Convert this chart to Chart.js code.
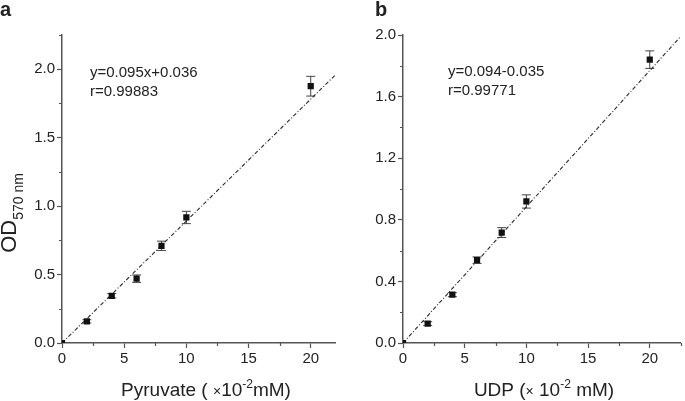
<!DOCTYPE html>
<html>
<head>
<meta charset="utf-8">
<script src="https://cdn.jsdelivr.net/npm/chart.js@4"></script>
<style>
    body { margin: 0; background: #fff; width: 685px; height: 401px; overflow: hidden; }
    .panel { position: absolute; top: 0; height: 401px; }
</style>
</head>
<body>
<div class="panel" style="left:0;width:340px"><canvas id="chartA"></canvas></div>
<div class="panel" style="left:340px;width:345px"><canvas id="chartB"></canvas></div>
<script>
// panel a: pyruvate standard curve
const concA = [0, 2, 4, 6, 8, 10, 20]
const odA = [0, 0.158, 0.345, 0.47, 0.71, 0.917, 1.876]
const errA = [0, 0.012, 0.016, 0.027, 0.034, 0.045, 0.072]
const fitXA = [0, 22]
const fitYA = [0, 1.96]

// panel b: UDP standard curve
const concB = [0, 2, 4, 6, 8, 10, 20]
const odB = [0, 0.126, 0.314, 0.538, 0.717, 0.919, 1.84]
const errB = [0, 0.012, 0.013, 0.021, 0.032, 0.043, 0.057]
const fitXB = [0, 22.5]
const fitYB = [0, 1.99]

const FONT = '"Liberation Sans", Arial, Helvetica, sans-serif'
const AXIS = '#555'
const TEXT = '#222'

function isMult(v, step) {
    return Math.abs(v / step - Math.round(v / step)) < 1e-6
}

function drawRuns(ctx, runs, x, y, align) {
    let total = 0
    runs.forEach(r => {
        ctx.font = (r.bold ? 'bold ' : '') + r.size + 'px ' + FONT
        r.w = ctx.measureText(r.text).width
        total += r.w
    })
    let cx = align === 'center' ? x - total / 2 : x
    ctx.textAlign = 'left'
    ctx.textBaseline = 'alphabetic'
    runs.forEach(r => {
        ctx.font = (r.bold ? 'bold ' : '') + r.size + 'px ' + FONT
        ctx.fillText(r.text, cx, y + (r.dy || 0))
        cx += r.w
    })
}

// error bars + minor ticks + text
const extras = {
    id: 'extras',
    beforeDatasetsDraw(chart, args, opts) {
        const ctx = chart.ctx
        const xs = chart.scales.x
        const ys = chart.scales.y
        const ds = chart.data.datasets[0]
        ctx.save()
        ctx.strokeStyle = '#444'
        ctx.lineWidth = 1
        ds.data.forEach((p, i) => {
            const e = ds.errors[i]
            if (!e) return
            const px = xs.getPixelForValue(p.x)
            const top = ys.getPixelForValue(p.y + e)
            const bot = ys.getPixelForValue(p.y - e)
            ctx.beginPath()
            ctx.moveTo(px, top); ctx.lineTo(px, bot)
            ctx.moveTo(px - 4.5, top); ctx.lineTo(px + 4.5, top)
            ctx.moveTo(px - 4.5, bot); ctx.lineTo(px + 4.5, bot)
            ctx.stroke()
        })
        ctx.restore()
    },
    afterDraw(chart, args, opts) {
        const ctx = chart.ctx
        const xs = chart.scales.x
        const ys = chart.scales.y
        const area = chart.chartArea
        ctx.save()
        ctx.strokeStyle = AXIS
        ctx.lineWidth = 1.2
        ctx.beginPath()
        for (let v = opts.xMinor; v <= xs.max + 1e-9; v += opts.xMinor * 2) {
            const px = Math.round(xs.getPixelForValue(v)) + 0.5
            ctx.moveTo(px, area.bottom); ctx.lineTo(px, area.bottom + 3)
        }
        for (let v = opts.yMinor; v <= ys.max + 1e-9; v += opts.yMinor * 2) {
            const py = Math.round(ys.getPixelForValue(v)) + 0.5
            ctx.moveTo(area.left, py); ctx.lineTo(area.left - 3, py)
        }
        ctx.stroke()

        ctx.fillStyle = TEXT
        drawRuns(ctx, [{ text: opts.panel, size: 20, bold: true }], opts.panelX, 16, 'left')
        drawRuns(ctx, [{ text: opts.eq1, size: 15 }], opts.eqX, opts.eqY, 'left')
        drawRuns(ctx, [{ text: opts.eq2, size: 15 }], opts.eqX, opts.eqY + 19, 'left')
        drawRuns(ctx, opts.xTitle, opts.xTitleX, 396, 'center')
        if (opts.yTitle) {
            ctx.translate(16, 213)
            ctx.rotate(-Math.PI / 2)
            drawRuns(ctx, opts.yTitle, 0, 0, 'center')
        }
        ctx.restore()
    }
}

function makeChart(id, xs, ys, errs, fitX, fitY, cfg) {
    const points = xs.map((x, i) => ({ x: x, y: ys[i] }))
    const fit = fitX.map((x, i) => ({ x: x, y: fitY[i] }))
    return new Chart(document.getElementById(id), {
        type: 'scatter',
        data: {
            datasets: [
                {
                    data: points,
                    errors: errs,
                    pointStyle: 'rect',
                    pointRadius: 4.4,
                    backgroundColor: '#111',
                    borderColor: '#111',
                    borderWidth: 0,
                },
                {
                    type: 'line',
                    data: fit,
                    borderColor: '#2a2a2a',
                    borderWidth: 1.1,
                    borderDash: [4, 2, 1, 2],
                    pointRadius: 0,
                    fill: false,
                },
            ],
        },
        options: {
            responsive: true,
            maintainAspectRatio: false,
            animation: false,
            events: [],
            layout: { padding: { top: 35, right: cfg.padRight, left: 0, bottom: 0 } },
            plugins: {
                legend: { display: false },
                tooltip: { enabled: false },
                extras: cfg.extras,
            },
            scales: {
                x: {
                    type: 'linear',
                    min: 0,
                    max: cfg.xMax,
                    border: { color: AXIS, width: 1.5 },
                    grid: {
                        drawOnChartArea: false,
                        tickLength: 5,
                        tickWidth: 1.2,
                        tickColor: AXIS,
                    },
                    ticks: {
                        stepSize: 5,
                        includeBounds: false,
                        padding: 2,
                        maxRotation: 0,
                        autoSkip: false,
                        color: TEXT,
                        font: { size: 15, family: FONT },
                        callback: v => String(Math.round(v)),
                    },
                    afterFit: s => { s.height = 58 },
                },
                y: {
                    min: 0,
                    max: cfg.yMax,
                    border: { color: AXIS, width: 1.5 },
                    grid: {
                        drawOnChartArea: false,
                        tickLength: 5,
                        tickWidth: 1.2,
                        tickColor: AXIS,
                    },
                    ticks: {
                        stepSize: cfg.yStep,
                        includeBounds: false,
                        padding: 2,
                        autoSkip: false,
                        color: TEXT,
                        font: { size: 15, family: FONT },
                        callback: v => v.toFixed(1),
                    },
                    afterFit: s => { s.width = cfg.yWidth },
                },
            },
        },
        plugins: [extras],
    })
}

makeChart('chartA', concA, odA, errA, fitXA, fitYA, {
    xMax: 22, yMax: 2.25, yStep: 0.5, yWidth: 62, padRight: 2,
    extras: {
        xMinor: 2.5, yMinor: 0.25,
        panel: 'a', panelX: 0,
        eq1: 'y=0.095x+0.036', eq2: 'r=0.99883', eqX: 90, eqY: 77,
        xTitleX: 206,
        xTitle: [
            { text: 'Pyruvate ( ', size: 19 },
            { text: '×', size: 14 },
            { text: '10', size: 19 },
            { text: '-2', size: 12, dy: -8 },
            { text: 'mM)', size: 19 },
        ],
        yTitle: [
            { text: 'OD', size: 22 },
            { text: '570 nm', size: 14, dy: 7 },
        ],
    },
})

makeChart('chartB', concB, odB, errB, fitXB, fitYB, {
    xMax: 22.5, yMax: 2.0, yStep: 0.4, yWidth: 63, padRight: 0,
    extras: {
        xMinor: 2.5, yMinor: 0.2,
        panel: 'b', panelX: 35,
        eq1: 'y=0.094-0.035', eq2: 'r=0.99771', eqX: 108, eqY: 76,
        xTitleX: 204,
        xTitle: [
            { text: 'UDP (', size: 19 },
            { text: '×', size: 14 },
            { text: ' 10', size: 19 },
            { text: '-2', size: 12, dy: -8 },
            { text: ' mM)', size: 19 },
        ],
    },
})
</script>
</body>
</html>
